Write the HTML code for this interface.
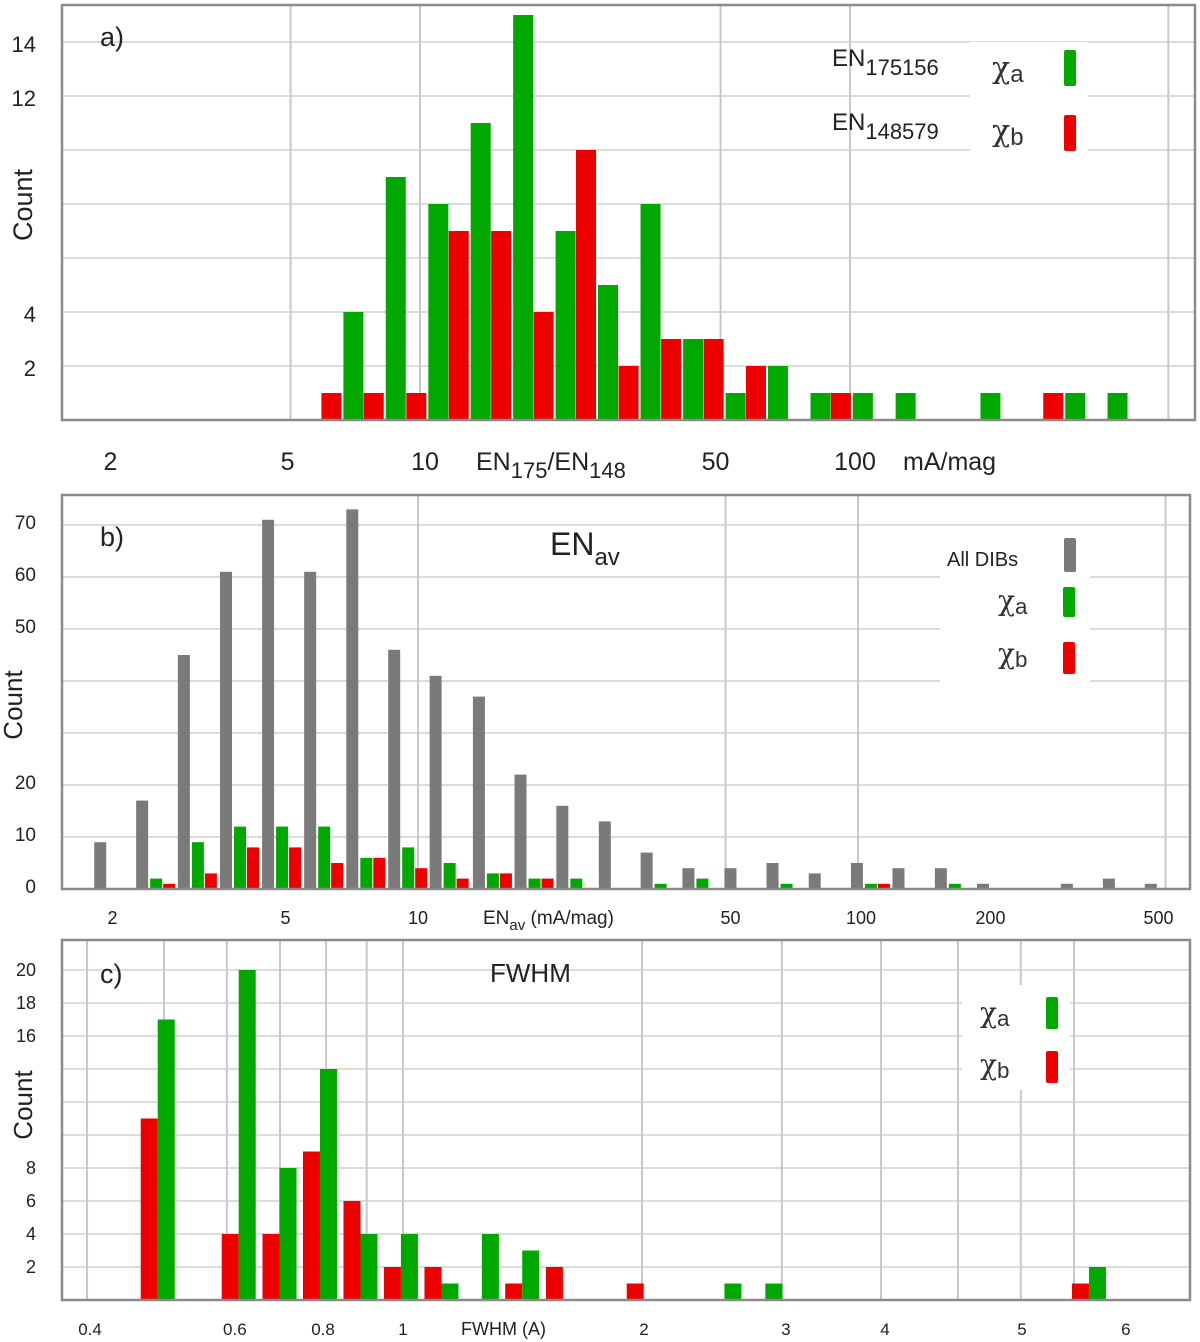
<!DOCTYPE html>
<html><head><meta charset="utf-8"><style>
html,body{margin:0;padding:0;background:#fff;}
svg{display:block;font-family:"Liberation Sans",sans-serif;}
</style></head><body>
<svg id="chart" width="1200" height="1342" viewBox="0 0 1200 1342" xmlns="http://www.w3.org/2000/svg"></svg>
<script>
// ---- Panel a data ----
const aBins = [6.6,8.28,10.4,13.05,16.38,20.56,25.8,32.4,40.7,51.1,64.1,80.5,101,127,159,200,251,315,395];
const aGreen = [4,9,8,11,15,7,5,8,3,1,2,1,1,1,0,1,0,1,1];
const aRed = [1,1,1,7,7,4,10,2,3,3,2,0,1,0,0,0,0,1,0];
const aYTicks = [2,4,12,14];
const aXTickVals = [2,5,10,50,100];
const aXTickLabels = ["2","5","10","50","100"];
// ---- Panel b data ----
const bBins = [2.04,2.54,3.16,3.94,4.91,6.12,7.63,9.5,11.8,14.8,18.4,22.9,28.6,35.6,44.3,55.2,68.8,85.8,107,133,166,207,258,321,400,498];
const bAll = [9,17,45,61,71,61,73,46,41,37,22,16,13,7,4,4,5,3,5,4,4,1,0,1,2,1];
const bGreen = [0,2,9,12,12,12,6,8,5,3,2,2,0,1,2,0,1,0,1,0,1,0,0,0,0,0];
const bRed = [0,1,3,8,8,5,6,4,2,3,2,0,0,0,0,0,0,0,1,0,0,0,0,0,0,0];
const bYTicks = [0,10,20,50,60,70];
const bXTickVals = [2,5,10,50,100,200,500];
const bXTickLabels = ["2","5","10","50","100","200","500"];
// ---- Panel c data ----
const cBins = [0.491,0.552,0.621,0.699,0.786,0.884,0.994,1.118,1.257,1.413,1.59,1.79,2.01,2.26,2.54,2.86,3.21,3.61,4.06,4.57,5.14,5.78,6.5,7.31];
const cGreen = [17,0,20,8,14,4,4,1,4,3,0,0,0,0,1,1,0,0,0,0,0,0,0,2];
const cRed = [11,0,4,4,9,6,2,2,0,1,2,0,1,0,0,0,0,0,0,0,0,0,0,1];
const cYTicks = [2,4,6,8,16,18,20];
const cXTickVals = [0.4,0.6,0.8,1,2,3,4,5,6];
const cXTickLabels = ["0.4","0.6","0.8","1","2","3","4","5","6"];

const NS="http://www.w3.org/2000/svg";
const svg=document.getElementById('chart');
function mk(tag,attrs,parent){const e=document.createElementNS(NS,tag);for(const k in attrs)e.setAttribute(k,attrs[k]);(parent||svg).appendChild(e);return e;}
function txt(x,y,s,size,parent,anchor){const t=mk('text',{x:x,y:y,'font-size':size,fill:'#222','text-anchor':anchor||'start'},parent);t.textContent=s;return t;}

function panel(cfg){
  const g=mk('g',{});
  
  
  const X=v=>cfg.x0+cfg.ppd*(Math.log10(v)-cfg.logRef);
  const Y=v=>cfg.bottom-v*cfg.ppu;
  for(let v=cfg.gridStep;Y(v)>cfg.top+2;v+=cfg.gridStep){
    const l=mk('line',{x1:cfg.left,x2:cfg.right,y1:Y(v),y2:Y(v),stroke:'#dcdcdc','stroke-width':2},g);
    
  }
  cfg.vgrid.forEach(v=>{
    const l=mk('line',{x1:X(v),x2:X(v),y1:cfg.top,y2:cfg.bottom,stroke:'#c8c8c8','stroke-width':2},g);
    
  });
  cfg.series.forEach(s=>{
    s.vals.forEach((v,i)=>{
      if(!v)return;
      const cx=X(cfg.bins[i]);
      const r=mk('rect',{x:cx+s.off,y:Y(v),width:s.w,height:cfg.bottom-Y(v),fill:s.color},g);
      
      
    });
  });
  const f=mk('rect',{x:cfg.left,y:cfg.top,width:cfg.right-cfg.left,height:cfg.bottom-cfg.top,fill:'none',stroke:'#8a8a8a','stroke-width':2.5},g);
  
  cfg.yTicks.forEach(v=>{
    const t=txt(cfg.yLabX,Y(v)+cfg.yLabOff,String(v),cfg.yLabSize,g,'end');
    
  });
  cfg.xTickVals.forEach((v,i)=>{
    const t=txt(X(v)+(cfg.xLabShift[i]||0),cfg.xLabY,cfg.xTickLabels[i],cfg.xLabSize,g,'middle');
    
  });
  const yt=mk('text',{x:0,y:0,'font-size':cfg.countSize,fill:'#222','text-anchor':'middle',transform:`translate(${cfg.countX},${cfg.countY}) rotate(-90)`},g);
  yt.textContent='Count';
  
  return g;
}

panel({name:'panel-a',left:62,right:1195,top:5,bottom:420,x0:420,ppd:430,logRef:1,ppu:27,gridStep:2,
  vgrid:[5,10,50,100,550],bins:aBins,
  series:[{name:'red-chi-b',vals:aRed,color:'#ee0000',off:-21,w:20},{name:'green-chi-a',vals:aGreen,color:'#00a800',off:1,w:20}],
  yTicks:aYTicks,yLabX:36,yLabOff:10,yLabSize:22,xTickVals:aXTickVals,xTickLabels:aXTickLabels,xLabShift:[-9,-3,5,-5,5],xLabY:470,xLabSize:25,
  countSize:27,countX:32,countY:205});
panel({name:'panel-b',left:62,right:1190,top:495,bottom:889,x0:418,ppd:440,logRef:1,ppu:5.2,gridStep:10,
  vgrid:[10,50,100,500],bins:bBins,
  series:[{name:'gray-all-dibs',vals:bAll,color:'#7a7a7a',off:-20,w:12},{name:'green-chi-a',vals:bGreen,color:'#00a800',off:-6,w:12},{name:'red-chi-b',vals:bRed,color:'#ee0000',off:7,w:12}],
  yTicks:bYTicks,yLabX:36,yLabOff:4,yLabSize:19,xTickVals:bXTickVals,xTickLabels:bXTickLabels,xLabShift:[2,0,0,5,3,0,-7],xLabY:924,xLabSize:18,
  countSize:26,countX:22,countY:705});
panel({name:'panel-c',left:62,right:1190,top:940,bottom:1300,x0:403,ppd:794,logRef:0,ppu:16.5,gridStep:2,
  vgrid:[0.4,0.5,0.6,0.7,0.8,0.9,1,2,3,4,5,6,7],bins:cBins,
  series:[{name:'red-chi-b',vals:cRed,color:'#ee0000',off:-17,w:17},{name:'green-chi-a',vals:cGreen,color:'#00a800',off:0,w:17}],
  yTicks:cYTicks,yLabX:36,yLabOff:6,yLabSize:18,xTickVals:cXTickVals,xTickLabels:cXTickLabels,xLabShift:[3,8,-3,0,2,4,4,64,105],xLabY:1335,xLabSize:17,
  countSize:26,countX:32,countY:1105});

function label(x,y,s,size,name){const t=txt(x,y,s,size);return t;}
label(100,46,'a)',27,'panel-a-label');
label(100,546,'b)',27,'panel-b-label');
label(100,983,'c)',27,'panel-c-label');
label(490,982,'FWHM',26,'panel-c-title');
(function(){const t=mk('text',{x:550,y:555,'font-size':32,fill:'#222'});t.innerHTML='EN<tspan font-size="24" dy="10">av</tspan>';})();
(function(){const t=mk('text',{x:476,y:470,'font-size':25,fill:'#222'});t.innerHTML='EN<tspan font-size="22" dy="8">175</tspan><tspan dy="-8">/EN</tspan><tspan font-size="22" dy="8">148</tspan>';})();
label(903,470,'mA/mag',25,'x-axis-unit-a');
(function(){const t=mk('text',{x:483,y:924,'font-size':19,fill:'#222'});t.innerHTML='EN<tspan font-size="15" dy="6">av</tspan><tspan dy="-6"> (mA/mag)</tspan>';})();
label(461,1335,'FWHM  (A)',18,'x-axis-title-c');

function legBox(x,y,w,h,name){const r=mk('rect',{x:x,y:y,width:w,height:h,fill:'#fff'});}
function swatch(x,y,h,c,name){const r=mk('rect',{x:x,y:y,width:12,height:h,fill:c,rx:2});}
function chi(x,y,sub,size,name){const t=mk('text',{x:x,y:y,'font-size':size,fill:'#333','font-family':'"DejaVu Serif",serif'});t.innerHTML='χ<tspan font-family="Liberation Sans" font-size="'+(size*0.8)+'" dy="4">'+sub+'</tspan>';}
legBox(970,42,118,120,'legend-a-box');
(function(){const t=mk('text',{x:832,y:66,'font-size':24,fill:'#222'});t.innerHTML='EN<tspan font-size="22" dy="9">175156</tspan>';})();
(function(){const t=mk('text',{x:832,y:130,'font-size':24,fill:'#222'});t.innerHTML='EN<tspan font-size="22" dy="9">148579</tspan>';})();
chi(992,78,'a',30,'legend-a-chi-a');chi(992,141,'b',30,'legend-a-chi-b');
swatch(1064,50,36,'#00a800','legend-a-swatch-green');swatch(1064,115,36,'#ee0000','legend-a-swatch-red');
legBox(940,530,150,155,'legend-b-box');
label(947,566,'All DIBs',20,'legend-b-all-dibs');
chi(998,610,'a',28,'legend-b-chi-a');chi(998,663,'b',28,'legend-b-chi-b');
swatch(1064,538,34,'#7a7a7a','legend-b-swatch-gray');swatch(1063,587,30,'#00a800','legend-b-swatch-green');swatch(1063,642,32,'#ee0000','legend-b-swatch-red');
legBox(962,985,108,105,'legend-c-box');
chi(980,1022,'a',28,'legend-c-chi-a');chi(980,1074,'b',28,'legend-c-chi-b');
swatch(1046,997,32,'#00a800','legend-c-swatch-green');swatch(1046,1051,32,'#ee0000','legend-c-swatch-red');
</script>
</body></html>
